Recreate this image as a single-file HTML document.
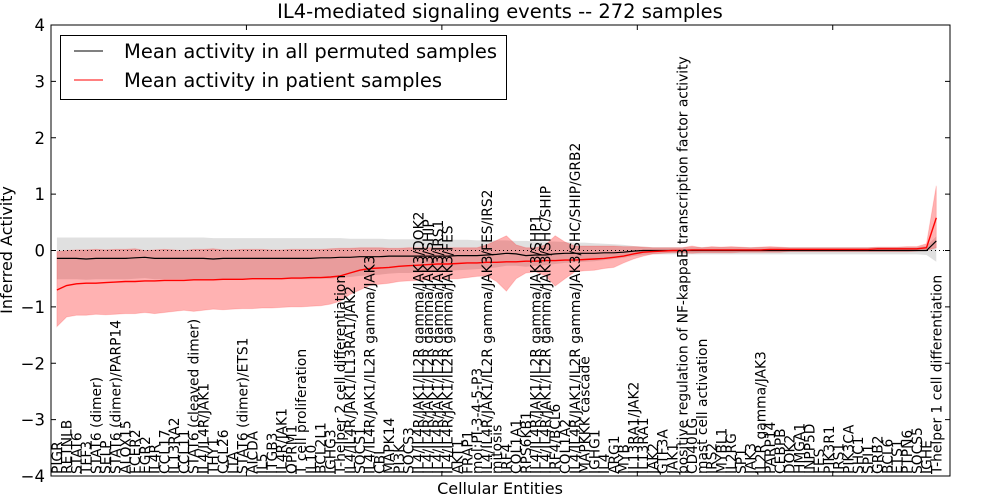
<!DOCTYPE html>
<html><head><meta charset="utf-8"><style>
body{margin:0;background:#fff;}
svg{display:block;font-family:"DejaVu Sans","Liberation Sans",sans-serif;}
</style></head><body>
<svg id="chart" width="1000" height="500" xmlns="http://www.w3.org/2000/svg">
<text x="500" y="18" text-anchor="middle" font-size="19.5">IL4-mediated signaling events -- 272 samples</text>
<text transform="translate(12,250) rotate(-90)" text-anchor="middle" font-size="16">Inferred Activity</text>
<text x="500" y="494" text-anchor="middle" font-size="16">Cellular Entities</text>
<g id="plot"></g>
<rect x="51" y="25" width="899" height="451" fill="none" stroke="#000" stroke-width="1"/>
<g>
<rect x="60.5" y="35.5" width="446" height="64" fill="#fff" stroke="#000"/>
<line x1="74" y1="51" x2="103" y2="51" stroke="#000"/>
<text x="124" y="58" font-size="19.5">Mean activity in all permuted samples</text>
<line x1="74" y1="80" x2="103" y2="80" stroke="#f00"/>
<text x="124" y="87" font-size="19.5">Mean activity in patient samples</text>
</g>
</svg>
<script>
const categories=["PIGR","RETNLB","STAT6","TFF3","STAT6 (dimer)","SELP","STAT6 (dimer)/PARP14","ALOX15","FCER2","EGR2","IL4R","CCL17","IL13RA2","CCL11","STAT6 (cleaved dimer)","IL4/IL4R/JAK1","THY1","CCL26","LTA","STAT6 (dimer)/ETS1","AICDA","IL5","ITGB3","IL4R/JAK1","OPRM1","T cell proliferation","IL10","BCL2L1","IGHG3","T-helper 2 cell differentiation","IL4/IL4R/JAK1/IL13RA1/JAK2","SOCS1","IL4/IL4R/JAK1/IL2R gamma/JAK3","CBL","MAPK14","PI3K","SOCS3","IL4/IL4R/JAK1/IL2R gamma/JAK3/DOK2","IL4/IL4R/JAK1/IL2R gamma/JAK3/SHIP","IL4/IL4R/JAK1/IL2R gamma/JAK3/IRS1","IL4/IL4R/JAK1/IL2R gamma/JAK3/FES","AKT1","FRAP1","mol:PI-3-4-5-P3","IL4/IL4R/JAK1/IL2R gamma/JAK3/FES/IRS2","mitosis","IRF4","COL1A1","RPS6KB1","IL4/IL4R/JAK1/IL2R gamma/JAK3/SHP1","IL4/IL4R/JAK1/IL2R gamma/JAK3/SHC/SHIP","IRF4/BCL6","COL1A2","IL4/IL4R/JAK1/IL2R gamma/JAK3/SHC/SHIP/GRB2","MAPKKK cascade","IGHG1","IL4","ARG1","MYB","IL13RA1/JAK2","IL13RA1","JAK2","GTF3A","JAK1","positive regulation of NF-kappaB transcription factor activity","CD40LG","mast cell activation","IRS2","MYBL1","IL2RG","SP1","JAK3","IL2R gamma/JAK3","PARP14","CEBPB","DOK2","HMGA1","INPP5D","FES","PIK3R1","IRS1","PIK3CA","SHC1","SPI1","GRB2","BCL6","ETS1","PTPN6","SOCS5","IGHE","T-helper 1 cell differentiation"];
const redMean=[-0.70,-0.62,-0.59,-0.58,-0.58,-0.57,-0.56,-0.55,-0.55,-0.54,-0.54,-0.53,-0.53,-0.53,-0.52,-0.52,-0.52,-0.51,-0.51,-0.51,-0.50,-0.50,-0.50,-0.50,-0.49,-0.49,-0.48,-0.48,-0.47,-0.45,-0.40,-0.35,-0.32,-0.31,-0.30,-0.28,-0.27,-0.26,-0.25,-0.24,-0.24,-0.23,-0.22,-0.22,-0.21,-0.21,-0.20,-0.20,-0.19,-0.19,-0.18,-0.18,-0.17,-0.17,-0.16,-0.15,-0.14,-0.12,-0.10,-0.06,-0.03,-0.02,-0.01,0.00,0.00,0.01,0.01,0.01,0.01,0.01,0.01,0.01,0.01,0.02,0.02,0.02,0.02,0.02,0.02,0.02,0.02,0.02,0.02,0.02,0.03,0.03,0.03,0.03,0.03,0.05,0.58];
const redHigh=[-0.02,0.00,0.01,0.01,0.02,0.01,0.02,0.02,0.03,0.00,0.01,0.02,0.01,0.00,0.02,0.02,0.03,0.01,0.01,0.02,0.02,0.02,0.01,0.01,0.02,0.02,0.02,0.02,0.03,0.04,0.04,0.05,0.05,0.05,0.04,0.04,0.05,0.05,0.05,0.05,0.05,0.05,0.05,0.05,0.10,0.18,0.26,0.10,0.05,0.05,0.10,0.26,0.15,0.08,0.08,0.08,0.08,0.08,0.07,0.07,0.06,0.05,0.05,0.05,0.05,0.08,0.05,0.07,0.06,0.07,0.06,0.05,0.06,0.07,0.06,0.05,0.05,0.05,0.05,0.05,0.05,0.05,0.05,0.05,0.06,0.06,0.06,0.07,0.07,0.12,1.15];
const redLow=[-1.35,-1.18,-1.15,-1.15,-1.13,-1.14,-1.13,-1.12,-1.12,-1.10,-1.12,-1.10,-1.08,-1.06,-1.08,-1.06,-1.04,-1.05,-1.04,-1.03,-1.03,-1.02,-1.02,-1.01,-1.00,-1.00,-0.99,-0.98,-0.95,-0.90,-0.78,-0.70,-0.62,-0.60,-0.58,-0.55,-0.54,-0.53,-0.52,-0.51,-0.50,-0.50,-0.48,-0.46,-0.45,-0.55,-0.72,-0.50,-0.40,-0.38,-0.45,-0.63,-0.50,-0.38,-0.36,-0.35,-0.32,-0.30,-0.22,-0.15,-0.10,-0.06,-0.05,-0.04,-0.04,-0.05,-0.04,-0.04,-0.04,-0.04,-0.03,-0.03,-0.03,-0.03,-0.03,-0.02,-0.02,-0.02,-0.02,-0.02,-0.02,-0.02,-0.02,-0.02,-0.02,-0.02,-0.02,-0.02,-0.01,0.00,0.05];
const blackMean=[-0.14,-0.14,-0.14,-0.15,-0.14,-0.14,-0.14,-0.14,-0.13,-0.12,-0.14,-0.14,-0.14,-0.14,-0.14,-0.14,-0.15,-0.14,-0.14,-0.14,-0.14,-0.14,-0.14,-0.14,-0.14,-0.14,-0.14,-0.13,-0.13,-0.12,-0.12,-0.11,-0.11,-0.11,-0.10,-0.10,-0.10,-0.10,-0.10,-0.10,-0.10,-0.09,-0.09,-0.09,-0.08,-0.07,-0.05,-0.06,-0.09,-0.08,-0.08,-0.06,-0.05,-0.05,-0.05,-0.05,-0.04,-0.04,-0.03,-0.01,0.00,0.00,0.00,0.00,0.00,0.00,0.00,0.00,0.00,0.00,0.00,0.00,0.00,0.00,0.00,0.00,0.00,0.00,0.00,0.00,0.00,0.00,0.00,0.00,0.00,0.00,0.00,0.00,0.00,0.00,0.17];
const grayHigh=[0.23,0.23,0.23,0.23,0.23,0.23,0.23,0.23,0.23,0.23,0.23,0.23,0.23,0.23,0.23,0.23,0.22,0.22,0.22,0.22,0.22,0.22,0.22,0.22,0.22,0.22,0.22,0.22,0.22,0.22,0.21,0.21,0.21,0.21,0.20,0.20,0.20,0.20,0.20,0.20,0.19,0.19,0.19,0.18,0.18,0.18,0.18,0.17,0.17,0.16,0.16,0.16,0.15,0.14,0.14,0.13,0.12,0.11,0.10,0.08,0.07,0.06,0.06,0.06,0.06,0.06,0.06,0.06,0.06,0.06,0.06,0.06,0.06,0.06,0.06,0.06,0.06,0.06,0.06,0.06,0.06,0.06,0.06,0.06,0.06,0.06,0.06,0.06,0.06,0.08,0.25];
const grayLow=[-0.51,-0.51,-0.51,-0.52,-0.51,-0.51,-0.51,-0.51,-0.50,-0.49,-0.51,-0.51,-0.51,-0.51,-0.51,-0.51,-0.52,-0.51,-0.51,-0.51,-0.51,-0.51,-0.51,-0.51,-0.51,-0.51,-0.51,-0.50,-0.50,-0.48,-0.47,-0.45,-0.44,-0.43,-0.41,-0.40,-0.40,-0.39,-0.38,-0.37,-0.36,-0.35,-0.34,-0.33,-0.32,-0.30,-0.27,-0.27,-0.29,-0.27,-0.26,-0.24,-0.22,-0.21,-0.20,-0.19,-0.17,-0.15,-0.13,-0.10,-0.08,-0.07,-0.07,-0.07,-0.07,-0.07,-0.07,-0.07,-0.07,-0.07,-0.07,-0.07,-0.07,-0.07,-0.07,-0.07,-0.07,-0.07,-0.07,-0.07,-0.07,-0.07,-0.07,-0.07,-0.07,-0.07,-0.07,-0.07,-0.07,-0.08,-0.20];
const yTicks=[-4,-3,-2,-1,0,1,2,3,4];
const xTicks=[0,20,40,60,80];

const NS="http://www.w3.org/2000/svg";
const L=51,R=950,T=25,B=476,XMAX=92;
function xs(v){return L+(v)*(R-L)/XMAX;}
function xc(i){return xs(i+0.6);}
function ys(v){return B-(v+4)*(B-T)/8;}
const plot=document.getElementById('plot');
function mk(tag,attrs){const e=document.createElementNS(NS,tag);for(const k in attrs)e.setAttribute(k,attrs[k]);plot.appendChild(e);return e;}
function band(lo,hi){let d='';hi.forEach((v,i)=>{d+=(i?'L':'M')+xc(i).toFixed(1)+','+ys(v).toFixed(1);});for(let i=lo.length-1;i>=0;i--)d+='L'+xc(i).toFixed(1)+','+ys(lo[i]).toFixed(1);return d+'Z';}
function line(a){return a.map((v,i)=>(i?'L':'M')+xc(i).toFixed(1)+','+ys(v).toFixed(1)).join('');}

const g1=mk('path',{d:band(grayLow,grayHigh),fill:'#000','fill-opacity':'0.12',stroke:'none'});


const g2=mk('path',{d:band(redLow,redHigh),fill:'#f00','fill-opacity':'0.3',stroke:'#f00','stroke-opacity':'0.15'});


const z=mk('line',{x1:L,x2:R,y1:ys(0),y2:ys(0),stroke:'#000','stroke-dasharray':'1,3'});


const bl=mk('path',{d:line(blackMean),fill:'none',stroke:'#000','stroke-width':'1.2'});


const rl=mk('path',{d:line(redMean),fill:'none',stroke:'#f00','stroke-width':'1.4'});



yTicks.forEach(v=>{
  const y=ys(v);
  mk('line',{x1:L,x2:L+5,y1:y,y2:y,stroke:'#000'});
  mk('line',{x1:R-5,x2:R,y1:y,y2:y,stroke:'#000'});
  const t=mk('text',{x:L-6,y:y+6,'text-anchor':'end','font-size':'16.5'});
  t.textContent=(v<0?'\u2212'+(-v):String(v));
  
  
});
xTicks.forEach(v=>{
  const x=xs(v);
  mk('line',{x1:x,x2:x,y1:T,y2:T+5,stroke:'#000'});
  mk('line',{x1:x,x2:x,y1:B-5,y2:B,stroke:'#000'});
});
categories.forEach((c,i)=>{
  const x=xc(i)+5;
  const t=mk('text',{transform:'translate('+x.toFixed(1)+','+(B-2)+') rotate(-90)','font-size':'13.8'});
  t.textContent=c;
  
  
});
</script>
</body></html>
